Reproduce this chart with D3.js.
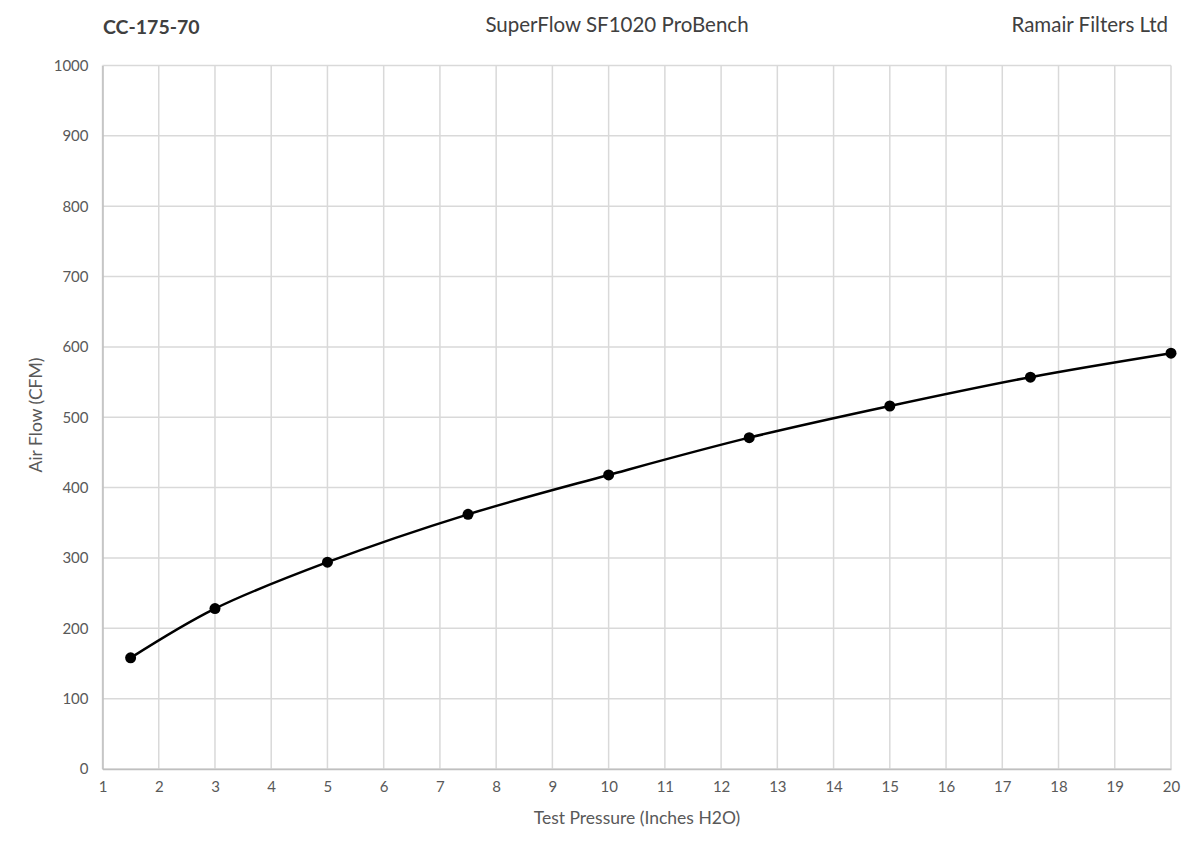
<!DOCTYPE html>
<html>
<head>
<meta charset="utf-8">
<script src="https://cdn.jsdelivr.net/npm/d3@7"></script>
<style>
  body { margin: 0; background: #fff; }
  svg text { font-family: Lato, "Open Sans", sans-serif; }
</style>
</head>
<body>
<svg id="chart" width="1200" height="854"></svg>
<script>
// test pressure (inches H2O) and measured air flow (CFM)
var pressure = [1.5, 3, 5, 7.5, 10, 12.5, 15, 17.5, 20];
var airFlow = [158, 228, 294, 362, 418, 471, 516, 557, 591];
var xTicks = d3.range(1, 21);
var yTicks = d3.range(0, 1001, 100);

var svg = d3.select('#chart'),
    margin = { left: 102.5, right: 29, top: 65.5, bottom: 85 },
    width = 1200 - margin.left - margin.right,
    height = 854 - margin.top - margin.bottom;

var x = d3.scaleLinear().domain([1, 20]).range([0, width]);
var y = d3.scaleLinear().domain([0, 1000]).range([height, 0]);

var g = svg.append('g').attr('transform', 'translate(' + margin.left + ',' + margin.top + ')');

// grid
g.append('g').attr('class', 'grid-x')
    .selectAll('line').data(xTicks).enter().append('line')
    .attr('x1', function (d) { return x(d); }).attr('x2', function (d) { return x(d); })
    .attr('y1', 0).attr('y2', height)
    .style('stroke', '#d9d9d9').style('stroke-width', 1.5);
g.append('g').attr('class', 'grid-y')
    .selectAll('line').data(yTicks).enter().append('line')
    .attr('x1', 0).attr('x2', width)
    .attr('y1', function (d) { return y(d); }).attr('y2', function (d) { return y(d); })
    .style('stroke', '#d9d9d9').style('stroke-width', 1.5);

// axes
var xAxis = g.append('g').attr('transform', 'translate(0,' + height + ')')
    .call(d3.axisBottom(x).tickValues(xTicks).tickFormat(d3.format('d')).tickSize(0).tickPadding(12));
var yAxis = g.append('g')
    .call(d3.axisLeft(y).tickValues(yTicks).tickFormat(d3.format('d')).tickSize(0).tickPadding(14));
[xAxis, yAxis].forEach(function (a) {
    a.select('.domain').style('stroke', '#bfbfbf').style('stroke-width', 1.5);
    a.selectAll('text').style('font-size', '15px').style('fill', '#595959')
        .style('font-family', 'Lato, "Open Sans", sans-serif');
});

// series
var pts = pressure.map(function (p, i) { return [p, airFlow[i]]; });
var line = d3.line()
    .x(function (d) { return x(d[0]); })
    .y(function (d) { return y(d[1]); })
    .curve(d3.curveCatmullRom.alpha(0.5));

g.append('path').datum(pts)
    .attr('d', line)
    .style('fill', 'none').style('stroke', '#000').style('stroke-width', 2.5);

g.selectAll('circle.pt').data(pts).enter().append('circle')
    .attr('class', 'pt')
    .attr('cx', function (d) { return x(d[0]); })
    .attr('cy', function (d) { return y(d[1]); })
    .attr('r', 5.5)
    .style('fill', '#000');

// axis titles
svg.append('text')
    .attr('x', 637).attr('y', 824)
    .attr('text-anchor', 'middle')
    .style('font-size', '17.5px').style('fill', '#595959')
    .text('Test Pressure (Inches H2O)');
svg.append('text')
    .attr('transform', 'translate(42,415) rotate(-90)')
    .attr('text-anchor', 'middle')
    .style('font-size', '17.5px').style('fill', '#595959')
    .text('Air Flow (CFM)');

// header
svg.append('text')
    .attr('x', 103).attr('y', 34)
    .style('font-size', '19.5px').style('font-weight', 'bold').style('fill', '#404040')
    .text('CC-175-70');
svg.append('text')
    .attr('x', 617).attr('y', 32)
    .attr('text-anchor', 'middle')
    .style('font-size', '20.5px').style('fill', '#404040')
    .text('SuperFlow SF1020 ProBench');
svg.append('text')
    .attr('x', 1168).attr('y', 32)
    .attr('text-anchor', 'end')
    .style('font-size', '20.5px').style('fill', '#404040')
    .text('Ramair Filters Ltd');
</script>
</body>
</html>
